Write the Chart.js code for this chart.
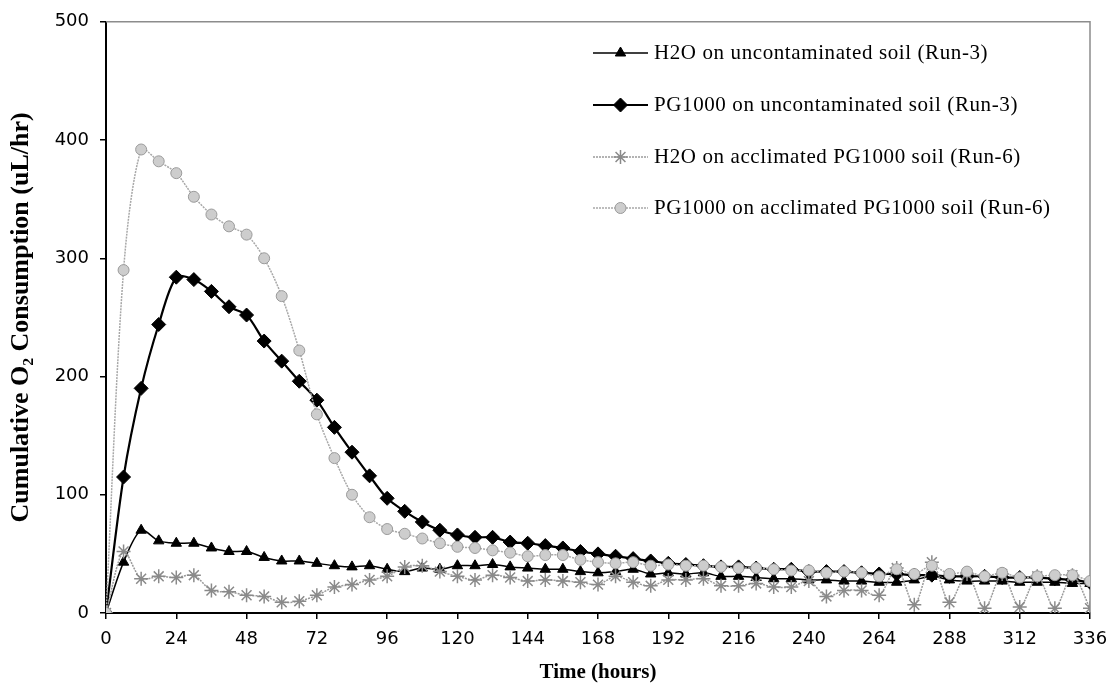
<!DOCTYPE html>
<html>
<head>
<meta charset="utf-8">
<script src="https://cdn.jsdelivr.net/npm/chart.js@4.4.1/dist/chart.umd.min.js"></script>
<style>
    html, body { margin: 0; padding: 0; background: #fff; }
    #wrap { width: 1112px; height: 687px; }
</style>
</head>
<body>
<div id="wrap"><canvas id="o2-chart" width="1112" height="687"></canvas></div>
<script>
// ===== DATA =====
const hours = [0, 6, 12, 18, 24, 30, 36, 42, 48, 54, 60, 66, 72, 78, 84, 90, 96, 102, 108, 114,
    120, 126, 132, 138, 144, 150, 156, 162, 168, 174, 180, 186, 192, 198, 204, 210, 216, 222, 228, 234,
    240, 246, 252, 258, 264, 270, 276, 282, 288, 294, 300, 306, 312, 318, 324, 330, 336];

const h2oUncontam = [0, 43, 70, 61, 59, 59, 55, 52, 52, 47, 44, 44, 42, 40, 39, 40, 37, 35, 38, 37,
    40, 40, 41, 39, 38, 37, 37, 35, 34, 35, 37, 33, 34, 33, 34, 31, 31, 30, 29, 29,
    28, 28, 27, 27, 26, 26, 28, 31, 28, 27, 27, 27, 26, 26, 26, 25, 25];

const pgUncontam = [0, 115, 190, 244, 284, 282, 272, 259, 252, 230, 213, 196, 180, 157, 136, 116, 97, 86, 77, 70,
    66, 64, 64, 60, 59, 57, 55, 52, 50, 48, 46, 44, 42, 41, 40, 39, 39, 38, 37, 37,
    35, 35, 35, 34, 33, 33, 32, 32, 31, 31, 31, 30, 30, 30, 29, 28, 26];

const h2oAcclim = [0, 52, 29, 31, 30, 32, 19, 18, 15, 14, 9, 10, 15, 22, 24, 28, 31, 39, 40, 35,
    31, 28, 32, 30, 27, 28, 27, 26, 24, 31, 26, 23, 28, 28, 29, 23, 23, 25, 22, 22,
    27, 14, 19, 19, 15, 38, 7, 43, 9, 33, 4, 33, 5, 31, 4, 32, 4];

const pgAcclim = [0, 290, 392, 382, 372, 352, 337, 327, 320, 300, 268, 222, 168, 131, 100, 81, 71, 67, 63, 59,
    56, 55, 53, 51, 48, 49, 49, 45, 43, 42, 43, 40, 41, 40, 40, 39, 38, 38, 37, 36,
    36, 34, 35, 34, 31, 37, 33, 40, 33, 35, 31, 34, 30, 31, 32, 32, 27];

const seriesLabels = [
    'H2O on uncontaminated soil (Run-3)',
    'PG1000 on uncontaminated soil (Run-3)',
    'H2O on acclimated PG1000 soil (Run-6)',
    'PG1000 on acclimated PG1000 soil (Run-6)'
];

const yTitle = 'Cumulative O\u2082 Consumption (uL/hr)';
const xTitle = 'Time (hours)';

// ===== CHART =====
const SERIF = '"Liberation Serif", "Times New Roman", serif';
const SANS = '"DejaVu Sans", "Liberation Sans", Arial, sans-serif';

function toPoints(values) {
    return hours.map((h, i) => ({ x: h, y: values[i] }));
}

// frame on top/right of the plot area
const framePlugin = {
    id: 'frame',
    beforeDatasetsDraw(chart) {
        const { ctx, chartArea: a } = chart;
        ctx.save();
        ctx.strokeStyle = '#8c8c8c';
        ctx.lineWidth = 1.5;
        ctx.beginPath();
        ctx.moveTo(a.left, a.top);
        ctx.lineTo(a.right, a.top);
        ctx.lineTo(a.right, a.bottom);
        ctx.stroke();
        ctx.restore();
    }
};

// legend drawn inside the plot, one row per series
const legendPlugin = {
    id: 'insideLegend',
    afterDraw(chart) {
        const ctx = chart.ctx;
        const rows = [53, 105, 157, 208];
        const x0 = 593, x1 = 648, tx = 654;
        chart.data.datasets.forEach((ds, i) => {
            const y = rows[i];
            ctx.save();
            ctx.strokeStyle = ds.borderColor;
            ctx.lineWidth = ds.borderWidth;
            ctx.setLineDash(ds.borderDash || []);
            ctx.beginPath();
            ctx.moveTo(x0, y);
            ctx.lineTo(x1, y);
            ctx.stroke();
            ctx.setLineDash([]);
            ctx.fillStyle = ds.pointBackgroundColor;
            ctx.strokeStyle = ds.pointBorderColor;
            ctx.lineWidth = ds.pointBorderWidth;
            Chart.helpers.drawPoint(ctx, {
                pointStyle: ds.pointStyle,
                radius: ds.pointRadius,
                borderWidth: ds.pointBorderWidth,
                rotation: 0
            }, (x0 + x1) / 2, y);
            ctx.fillStyle = '#000';
            ctx.font = '21px ' + SERIF;
            ctx.letterSpacing = '0.6px';
            ctx.textBaseline = 'middle';
            ctx.textAlign = 'left';
            ctx.fillText(seriesLabels[i], tx, y);
            ctx.restore();
        });
    }
};

const ctx = document.getElementById('o2-chart').getContext('2d');

new Chart(ctx, {
    type: 'line',
    data: {
        datasets: [{
            label: seriesLabels[0],
            data: toPoints(h2oUncontam),
            borderColor: '#000',
            borderWidth: 1.5,
            pointStyle: 'triangle',
            pointRadius: 6,
            pointBackgroundColor: '#000',
            pointBorderColor: '#000',
            pointBorderWidth: 1,
            tension: 0.3,
            order: 3
        }, {
            label: seriesLabels[1],
            data: toPoints(pgUncontam),
            borderColor: '#000',
            borderWidth: 2.2,
            pointStyle: 'rectRot',
            pointRadius: 7,
            pointBackgroundColor: '#000',
            pointBorderColor: '#000',
            pointBorderWidth: 1,
            tension: 0.3,
            order: 2
        }, {
            label: seriesLabels[2],
            data: toPoints(h2oAcclim),
            borderColor: '#9a9a9a',
            borderWidth: 1.5,
            borderDash: [2, 1],
            pointStyle: 'star',
            pointRadius: 7,
            pointBackgroundColor: '#9a9a9a',
            pointBorderColor: '#8a8a8a',
            pointBorderWidth: 1.5,
            tension: 0.3,
            order: 1
        }, {
            label: seriesLabels[3],
            data: toPoints(pgAcclim),
            borderColor: '#a8a8a8',
            borderWidth: 1.5,
            borderDash: [2, 1],
            pointStyle: 'circle',
            pointRadius: 5.5,
            pointBackgroundColor: '#cdcdcd',
            pointBorderColor: '#9a9a9a',
            pointBorderWidth: 1,
            tension: 0.3,
            order: 0
        }]
    },
    options: {
        responsive: false,
        animation: false,
        devicePixelRatio: 1,
        layout: {
            padding: { top: 19, right: 22, bottom: 0, left: 0 }
        },
        plugins: {
            legend: { display: false },
            tooltip: { enabled: false }
        },
        scales: {
            x: {
                type: 'linear',
                min: 0,
                max: 336,
                afterFit(scale) {
                    scale.height = 74;
                    scale.paddingRight = 0;
                },
                border: { display: true, color: '#000', width: 2 },
                grid: { drawOnChartArea: false, drawTicks: true, tickLength: 6, color: '#000', lineWidth: 1.5 },
                ticks: {
                    stepSize: 24,
                    padding: 10,
                    color: '#000',
                    maxRotation: 0,
                    font: { family: SANS, size: 18 }
                },
                title: {
                    display: true,
                    text: xTitle,
                    color: '#000',
                    padding: { top: 0, bottom: 2 },
                    font: { family: SERIF, size: 21, weight: 'bold' }
                }
            },
            y: {
                min: 0,
                max: 500,
                afterFit(scale) { scale.width = 106; },
                border: { display: true, color: '#000', width: 2 },
                grid: { drawOnChartArea: false, drawTicks: true, tickLength: 6, color: '#000', lineWidth: 1.5 },
                ticks: {
                    stepSize: 100,
                    padding: 11,
                    color: '#000',
                    font: { family: SANS, size: 18 }
                },
                title: {
                    display: true,
                    text: yTitle,
                    color: '#000',
                    padding: { top: 6, bottom: 4 },
                    font: { family: SERIF, size: 26, weight: 'bold' }
                }
            }
        }
    },
    plugins: [framePlugin, legendPlugin]
});
</script>
</body>
</html>
